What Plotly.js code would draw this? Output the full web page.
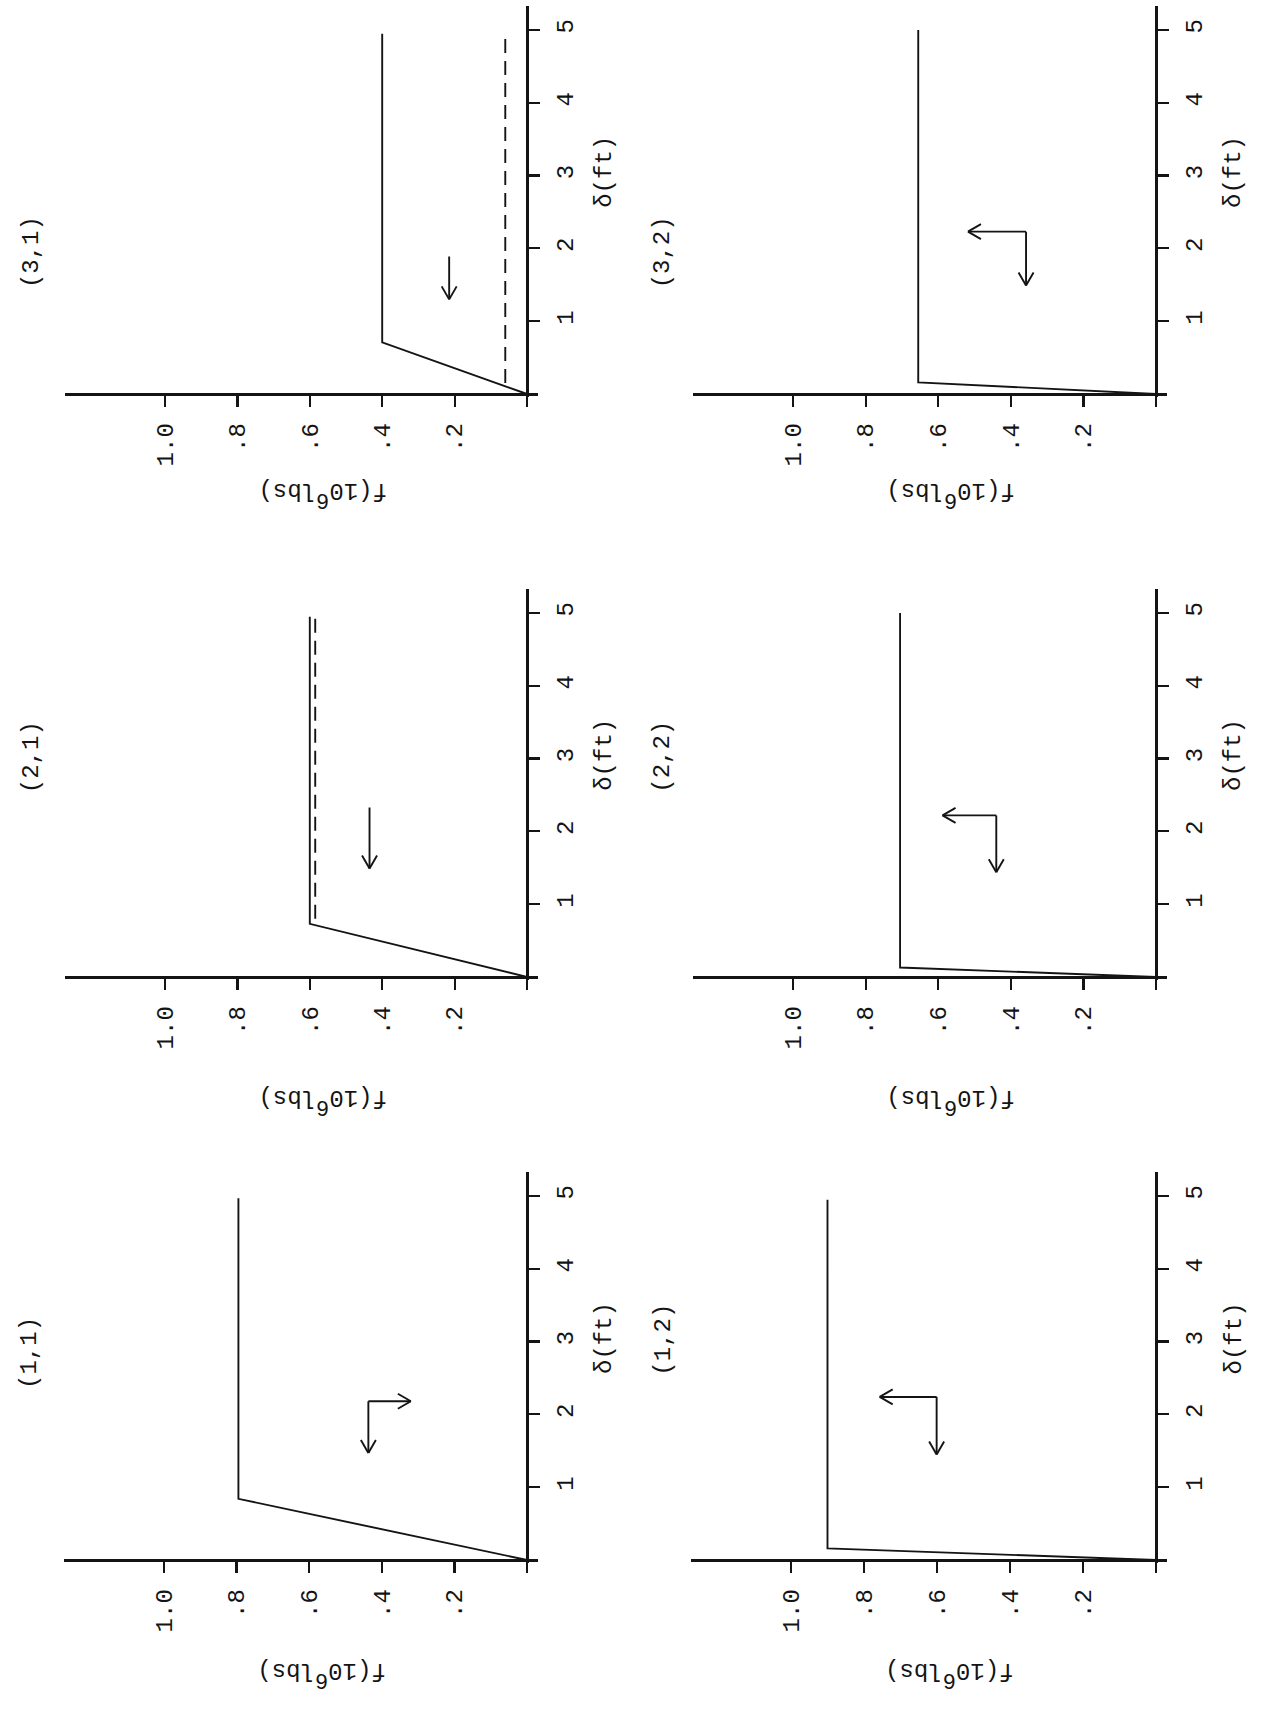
<!DOCTYPE html>
<html>
<head>
<meta charset="utf-8">
<script src="https://cdn.plot.ly/plotly-3.0.1.min.js"></script>
<style>html,body{margin:0;padding:0;background:#ffffff;}</style>
</head>
<body>
<div id="chart" style="width:1265px;height:1712px;"></div>
<script>
// ---------------- data ----------------
const panelNames = ['(3,1)', '(3,2)', '(2,1)', '(2,2)', '(1,1)', '(1,2)'];
// solid force–displacement paths  f (10^6 lbs) vs δ (ft)
const solidF = [[0, 0.40, 0.40], [0, 0.655, 0.655], [0, 0.60, 0.60], [0, 0.705, 0.705], [0, 0.795, 0.795], [0, 0.90, 0.90]];
const solidD = [[0, 0.71, 4.95], [0, 0.16, 5.0], [0, 0.73, 4.95], [0, 0.13, 5.0], [0, 0.84, 4.97], [0, 0.16, 4.95]];
// dashed paths
const dashedF = [[0.06, 0.06], [], [0.585, 0.585], [], [], []];
const dashedD = [[0.15, 4.97], [], [0.80, 4.95], [], [], []];
// direction arrows: [tailF, tailD, tipF, tipD]
const arrowSegs = [
  [[0.215, 1.89, 0.215, 1.30]],
  [[0.358, 2.23, 0.358, 1.49], [0.358, 2.23, 0.518, 2.23]],
  [[0.435, 2.33, 0.435, 1.49]],
  [[0.44, 2.22, 0.44, 1.44], [0.44, 2.22, 0.588, 2.22]],
  [[0.437, 2.18, 0.437, 1.47], [0.437, 2.18, 0.32, 2.18]],
  [[0.601, 2.24, 0.601, 1.45], [0.601, 2.24, 0.757, 2.24]]
];
const fTickVals = [0, 0.2, 0.4, 0.6, 0.8, 1.0];
const fTickText = ['', '.2', '.4', '.6', '.8', '1.0'];
const dTickVals = [1, 2, 3, 4, 5];
const dTickText = ['1', '2', '3', '4', '5'];
const fTitle = 'f(10<sup><span style="font-size:22px">6</span></sup>lbs)';
const dTitle = '\u03b4(ft)';

// ---------------- layout geometry (page pixels) ----------------
const W = 1265, H = 1712;
const geom = [
  {ox: 527,  oy: 394,  fu: 362, du: 72.8, labD: 1.95, labF: 1.37, ttlOff: 100},
  {ox: 1156, oy: 394,  fu: 363, du: 72.8, labD: 1.95, labF: 1.36, ttlOff: 100},
  {ox: 527,  oy: 977,  fu: 362, du: 72.8, labD: 3.02, labF: 1.37, ttlOff: 125},
  {ox: 1156, oy: 977,  fu: 363, du: 72.8, labD: 3.03, labF: 1.36, ttlOff: 125},
  {ox: 527,  oy: 1560, fu: 363, du: 72.8, labD: 2.84, labF: 1.37, ttlOff: 115},
  {ox: 1156, oy: 1560, fu: 365, du: 72.8, labD: 3.03, labF: 1.35, ttlOff: 115}
];
const F_MAX = 1.275, F_MIN = -0.03, D_MIN = -0.045, D_MAX = 5.33;
const FONT = 'Liberation Mono, Courier New, monospace';
const INK = '#141414';
const FS = 24;

const px2x = p => p / W;
const px2y = p => 1 - p / H;

const traces = [];
const layout = {
  width: W, height: H,
  margin: {l: 0, r: 0, t: 0, b: 0},
  paper_bgcolor: '#ffffff', plot_bgcolor: 'rgba(0,0,0,0)',
  showlegend: false,
  font: {family: FONT, color: INK, size: FS},
  annotations: []
};

geom.forEach((g, i) => {
  const n = i + 1;
  const xa = 'x' + n, ya = 'y' + n;
  layout['xaxis' + n] = {
    domain: [px2x(g.ox - F_MAX * g.fu), px2x(g.ox - F_MIN * g.fu)],
    range: [F_MAX, F_MIN], autorange: false,
    anchor: 'free', position: px2y(g.oy),
    showline: true, linewidth: 2.6, linecolor: INK,
    ticks: 'outside', ticklen: 11, tickwidth: 2.2, tickcolor: INK,
    tickmode: 'array', tickvals: fTickVals, ticktext: fTickText,
    tickangle: -90, ticklabelstandoff: 7,
    tickfont: {family: FONT, size: FS, color: INK},
    showgrid: false, zeroline: false, fixedrange: true
  };
  layout['yaxis' + n] = {
    domain: [px2y(g.oy - D_MIN * g.du), px2y(g.oy - D_MAX * g.du)],
    range: [D_MIN, D_MAX], autorange: false,
    anchor: 'free', position: px2x(g.ox), side: 'right',
    showline: true, linewidth: 2.6, linecolor: INK,
    ticks: 'outside', ticklen: 11, tickwidth: 2.2, tickcolor: INK,
    tickmode: 'array', tickvals: dTickVals, ticktext: dTickText,
    tickangle: -90, ticklabelstandoff: 5,
    tickfont: {family: FONT, size: FS, color: INK},
    showgrid: false, zeroline: false, fixedrange: true
  };

  traces.push({x: solidF[i], y: solidD[i], xaxis: xa, yaxis: ya, mode: 'lines',
    line: {color: INK, width: 1.9}, hoverinfo: 'skip'});
  if (dashedF[i].length) {
    traces.push({x: dashedF[i], y: dashedD[i], xaxis: xa, yaxis: ya, mode: 'lines',
      line: {color: INK, width: 1.9, dash: '14px,8px'}, hoverinfo: 'skip'});
  }

  // arrows: shaft + open V head (head size in pixels converted through the panel scale)
  const ax = [], ay = [];
  const L = 15, ang = 30 * Math.PI / 180;
  arrowSegs[i].forEach(s => {
    const [tf, td, hf, hd] = s;
    ax.push(tf, hf, null); ay.push(td, hd, null);
    let dx = -(hf - tf) * g.fu, dy = -(hd - td) * g.du;
    const len = Math.hypot(dx, dy); dx /= len; dy /= len;
    [ang, -ang].forEach(a => {
      const bx = -dx * Math.cos(a) + dy * Math.sin(a);
      const by = -dx * Math.sin(a) - dy * Math.cos(a);
      ax.push(hf, hf - (bx * L) / g.fu, null);
      ay.push(hd, hd - (by * L) / g.du, null);
    });
  });
  traces.push({x: ax, y: ay, xaxis: xa, yaxis: ya, mode: 'lines',
    line: {color: INK, width: 1.9}, hoverinfo: 'skip', connectgaps: false});

  // panel label
  layout.annotations.push({
    text: panelNames[i], xref: 'paper', yref: 'paper',
    x: px2x(g.ox - g.labF * g.fu), y: px2y(g.oy - g.labD * g.du),
    showarrow: false, textangle: -90, font: {family: FONT, size: FS, color: INK},
    xanchor: 'center', yanchor: 'middle'
  });
  // delta axis title
  layout.annotations.push({
    text: dTitle, xref: 'paper', yref: 'paper',
    x: px2x(g.ox + 0.215 * g.fu), y: px2y(g.oy - 3.05 * g.du),
    showarrow: false, textangle: -90, font: {family: FONT, size: FS, color: INK},
    xanchor: 'center', yanchor: 'middle'
  });
  // force axis title (upside down, as typed)
  layout.annotations.push({
    text: fTitle, xref: 'paper', yref: 'paper',
    x: px2x(g.ox - 0.565 * g.fu), y: px2y(g.oy + g.ttlOff),
    showarrow: false, textangle: 180, font: {family: FONT, size: FS, color: INK},
    xanchor: 'center', yanchor: 'middle'
  });
});

Plotly.newPlot('chart', traces, layout, {staticPlot: true, displayModeBar: false});
</script>
</body>
</html>
